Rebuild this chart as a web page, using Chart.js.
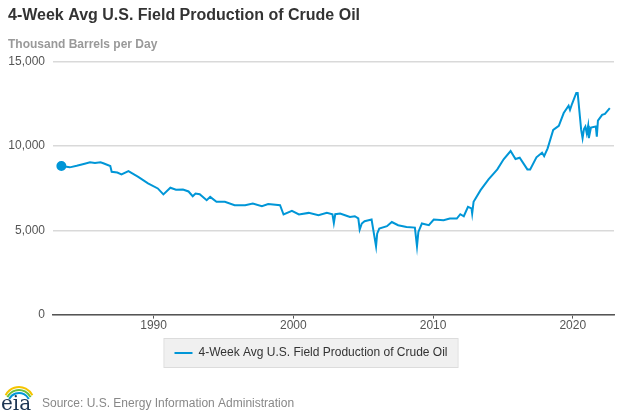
<!DOCTYPE html>
<html>
<head>
<meta charset="utf-8">
<script src="https://cdn.jsdelivr.net/npm/chart.js@4"></script>
<style>
  html, body { margin: 0; padding: 0; background: #fff; }
  #wrap { width: 624px; height: 416px; position: relative; }
</style>
</head>
<body>
<div id="wrap"><canvas id="myChart" width="624" height="416"></canvas></div>
<script>
// Dados (ano decimal, mil barris por dia)
const years = [
  1983.4, 1984.0, 1984.5, 1985.0, 1985.45, 1985.8, 1986.2, 1986.4, 1986.9, 1987.0,
  1987.4, 1987.7, 1988.2, 1988.9, 1989.6, 1990.3, 1990.7, 1991.2, 1991.6, 1992.1,
  1992.5, 1992.8, 1993.0, 1993.3, 1993.8, 1994.05, 1994.5, 1995.1, 1995.8, 1996.55,
  1997.1, 1997.75, 1998.2, 1999.05, 1999.3, 1999.9, 2000.4, 2001.1, 2001.8, 2002.4,
  2002.8, 2002.9, 2003.0, 2003.35, 2003.7, 2004.05, 2004.4, 2004.65, 2004.75, 2004.9,
  2005.1, 2005.6, 2005.92, 2006.0, 2006.15, 2006.7, 2007.05, 2007.5, 2008.1, 2008.7,
  2008.85, 2008.95, 2009.2, 2009.7, 2010.05, 2010.75, 2011.2, 2011.7, 2011.95, 2012.2,
  2012.5, 2012.75, 2012.8, 2012.9, 2013.4, 2013.97, 2014.6, 2015.05, 2015.55, 2015.9,
  2016.2, 2016.75, 2016.95, 2017.4, 2017.8, 2017.95, 2018.2, 2018.6, 2019.0, 2019.35,
  2019.7, 2019.8, 2019.95, 2020.25, 2020.35, 2020.6, 2020.7, 2020.8, 2020.9, 2021.0,
  2021.1, 2021.15, 2021.3, 2021.65, 2021.72, 2021.8, 2022.1, 2022.3, 2022.65
];
const production = [
  8810, 8730, 8820, 8930, 9030, 8990, 9030, 8970, 8810, 8470,
  8420, 8315, 8510, 8170, 7780, 7480, 7125, 7520, 7400, 7420,
  7300, 7020, 7180, 7140, 6785, 6980, 6685, 6685, 6490, 6490,
  6590, 6430, 6550, 6490, 5935, 6150, 5935, 6030, 5890, 6030,
  5950, 5435, 5950, 5990, 5890, 5790, 5830, 5700, 5040, 5400,
  5535, 5635, 4050, 4800, 5100, 5240, 5490, 5300, 5200, 5160,
  4050, 4900, 5400, 5300, 5635, 5595, 5695, 5695, 5950, 5830,
  6385, 6300, 5990, 6685, 7380, 8020, 8610, 9210, 9700, 9225,
  9300, 8610, 8610, 9325, 9600, 9400, 9860, 10950, 11190, 11950,
  12380, 12140, 12500, 13140, 13140, 10950, 10460, 11000, 11150, 10750,
  11190, 10460, 11090, 11150, 10550, 11500, 11840, 11900, 12240
];
const yearTicks = [1990, 2000, 2010, 2020];
const valueTicks = [0, 5000, 10000, 15000];
const seriesName = '4-Week Avg U.S. Field Production of Crude Oil';

Chart.defaults.font.family = '"Liberation Sans", Arial, sans-serif';
Chart.defaults.color = '#555';

// Caixa cinza atrás da legenda
const legendBox = {
  id: 'legendBox',
  beforeDraw(chart) {
    const hb = chart.legend && chart.legend.legendHitBoxes && chart.legend.legendHitBoxes[0];
    if (!hb) return;
    const c = chart.ctx;
    c.save();
    c.fillStyle = '#f0f0f0';
    c.strokeStyle = '#dcdcdc';
    c.lineWidth = 1;
    c.fillRect(hb.left - 10, hb.top - 8, hb.width + 20, hb.height + 16);
    c.strokeRect(hb.left - 10.5, hb.top - 8.5, hb.width + 21, hb.height + 17);
    c.restore();
  }
};

// Logo e fonte no rodapé
const footer = {
  id: 'footer',
  afterDraw(chart) {
    const c = chart.ctx;
    c.save();
    // arcos do logo
    const arcs = [['#f5c400', 12], ['#6cbf3b', 10], ['#0096d7', 8]];
    arcs.forEach(function (a, i) {
      c.beginPath();
      c.strokeStyle = a[0];
      c.lineWidth = 2;
      c.arc(19, 402 + i * 1, a[1] + 3, Math.PI * 1.15, Math.PI * 1.85);
      c.stroke();
    });
    c.fillStyle = '#1c3553';
    c.font = '20px "DejaVu Serif", "Liberation Serif", serif';
    c.textBaseline = 'alphabetic';
    c.fillText('eia', 1, 410);
    c.fillStyle = '#888';
    c.font = '12px "Liberation Sans", Arial, sans-serif';
    c.fillText('Source: U.S. Energy Information Administration', 42, 407);
    c.restore();
  }
};

window.onload = function () {
  const ctx = document.getElementById('myChart').getContext('2d');
  const points = years.map(function (y, i) { return { x: y, y: production[i] }; });

  new Chart(ctx, {
    type: 'line',
    data: {
      datasets: [{
        label: seriesName,
        data: points,
        borderColor: '#0096d7',
        backgroundColor: '#0096d7',
        borderWidth: 2,
        pointRadius: function (c) { return c.dataIndex === 0 ? 4 : 0; },
        pointHoverRadius: 0,
        tension: 0,
        fill: false
      }]
    },
    options: {
      responsive: false,
      animation: false,
      layout: { padding: { left: 8, right: 10, top: 2, bottom: 47 } },
      plugins: {
        title: {
          display: true,
          text: seriesName,
          align: 'start',
          color: '#333',
          font: { size: 16, weight: 'bold' },
          padding: { top: 4, bottom: 12 }
        },
        subtitle: {
          display: true,
          text: 'Thousand Barrels per Day',
          align: 'start',
          color: '#999',
          font: { size: 12, weight: 'bold' },
          padding: { top: 0, bottom: 10 }
        },
        legend: {
          position: 'bottom',
          labels: {
            color: '#333',
            font: { size: 12 },
            usePointStyle: true,
            pointStyle: 'line',
            pointStyleWidth: 18,
            padding: 12
          }
        },
        tooltip: { enabled: false }
      },
      scales: {
        x: {
          type: 'linear',
          min: 1982.8,
          max: 2022.95,
          afterBuildTicks: function (s) { s.ticks = yearTicks.map(function (v) { return { value: v }; }); },
          afterFit: function (s) { s.height += 2; },
          ticks: {
            color: '#555',
            font: { size: 12 },
            padding: 0,
            maxRotation: 0,
            callback: function (v) { return String(v); }
          },
          grid: { drawOnChartArea: false, drawTicks: true, tickLength: 4, color: '#555', lineWidth: 1 },
          border: { display: true, color: '#555', width: 1.5 }
        },
        y: {
          min: 0,
          max: 15000,
          afterBuildTicks: function (s) { s.ticks = valueTicks.map(function (v) { return { value: v }; }); },
          afterFit: function (s) { s.width = 45; },
          ticks: {
            color: '#555',
            font: { size: 12 },
            padding: 8,
            callback: function (v) { return v.toLocaleString('en-US'); }
          },
          grid: { drawTicks: false, color: '#d9d9d9', lineWidth: 1.5 },
          border: { display: false }
        }
      }
    },
    plugins: [legendBox, footer]
  });
};
</script>
</body>
</html>
